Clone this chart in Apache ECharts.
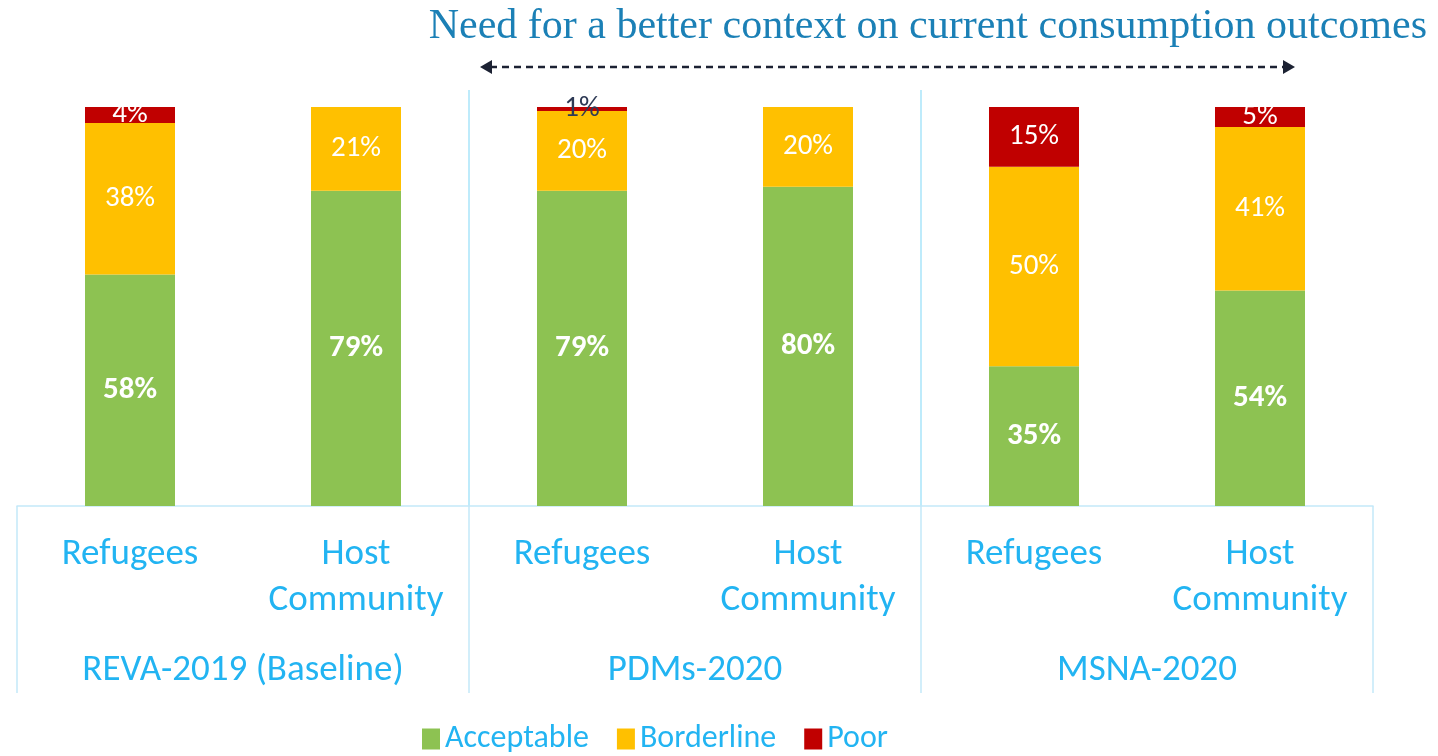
<!DOCTYPE html>
<html>
<head>
<meta charset="utf-8">
<script src="https://cdn.jsdelivr.net/npm/echarts@6/dist/echarts.min.js"></script>
<style>
  html, body { margin: 0; padding: 0; background: #fff; }
  #chart { width: 1438px; height: 756px; }
</style>
</head>
<body>
<div id="chart"></div>
<script>
// Survey rounds and the two population groups within each
const groups = ['REVA-2019 (Baseline)', 'PDMs-2020', 'MSNA-2020'];
const populations = ['Refugees', 'Host\nCommunity'];

// Food consumption score shares (%), one value per group/population bar
const acceptable = [58, 79, 79, 80, 35, 54];
const borderline = [38, 21, 20, 20, 50, 41];
const poor = [4, null, 1, null, 15, 5];

const seriesNames = ['Acceptable', 'Borderline', 'Poor'];
const colors = ['#8dc252', '#ffc000', '#c00000'];

// Unique keys "group|population" for the category axis
const categories = [];
groups.forEach(g => populations.forEach(p => categories.push(g + '|' + p)));

const labelFont = "Carlito, 'Noto Sans', 'Open Sans', sans-serif";
const axisBlue = '#22b4f2';
const boxLine = '#c3e9f9';

const chart = echarts.init(document.getElementById('chart'));

function segLabel(bold) {
  return {
    show: true,
    position: 'inside',
    formatter: p => (p.value == null ? '' : p.value + '%'),
    color: '#ffffff',
    fontFamily: labelFont,
    fontSize: bold ? 31 : 29,
    fontWeight: bold ? 'bold' : 'normal'
  };
}

const option = {
  animation: false,
  color: colors,
  title: {
    text: 'Need for a better context on current consumption outcomes',
    right: 6,
    top: 1,
    textStyle: {
      fontFamily: "'Liberation Serif', 'DejaVu Serif', serif",
      fontSize: 42,
      fontWeight: 'normal',
      color: '#1b80b6'
    }
  },
  legend: {
    data: seriesNames,
    left: 417,
    top: 718,
    icon: 'rect',
    itemWidth: 18,
    itemHeight: 21,
    itemGap: 28,
    textStyle: { fontFamily: labelFont, fontSize: 32, color: axisBlue }
  },
  grid: { left: 17, right: 65, top: 107, bottom: 250 },
  xAxis: [
    {
      type: 'category',
      data: categories,
      position: 'bottom',
      axisLine: { show: true, lineStyle: { color: boxLine, width: 1.5 } },
      axisTick: { show: false },
      axisLabel: {
        interval: 0,
        formatter: v => v.split('|')[1],
        fontFamily: labelFont,
        fontSize: 37,
        lineHeight: 46,
        color: axisBlue,
        margin: 26,
        verticalAlign: 'top'
      }
    },
    {
      type: 'category',
      data: groups,
      position: 'bottom',
      axisLine: { show: false },
      axisTick: { show: true, length: 187, lineStyle: { color: boxLine, width: 1.5 } },
      axisLabel: {
        interval: 0,
        fontFamily: labelFont,
        fontSize: 37,
        color: axisBlue,
        margin: 165,
        verticalAlign: 'middle'
      }
    }
  ],
  yAxis: { type: 'value', min: 0, max: 100, show: false },
  series: [
    {
      name: seriesNames[0], type: 'bar', stack: 'fcs', barWidth: 90,
      data: acceptable, label: segLabel(true)
    },
    {
      name: seriesNames[1], type: 'bar', stack: 'fcs', barWidth: 90,
      data: borderline, label: segLabel(false)
    },
    {
      name: seriesNames[2], type: 'bar', stack: 'fcs', barWidth: 90,
      // a very thin segment gets a dark label so it stays readable on white
      data: poor.map(v => (v != null && v < 2 ? { value: v, label: { color: '#2e3a55' } } : v)),
      label: segLabel(false)
    }
  ]
};

chart.setOption(option);

// Group separators rising above the bars, plus the dashed double arrow
const top100 = chart.convertToPixel({ yAxisIndex: 0 }, 100);
const base = chart.convertToPixel({ yAxisIndex: 0 }, 0);
const sepLines = [];
for (let g = 1; g < groups.length; g++) {
  const a = chart.convertToPixel({ xAxisIndex: 0 }, categories[g * 2 - 1]);
  const b = chart.convertToPixel({ xAxisIndex: 0 }, categories[g * 2]);
  const x = (a + b) / 2;
  sepLines.push({
    type: 'line',
    shape: { x1: x, y1: top100 - 17, x2: x, y2: base },
    style: { stroke: '#a9e4fa', lineWidth: 1.5 },
    silent: true
  });
}
const arrowY = 67, ax1 = 480, ax2 = 1295, arrowColor = '#1c2233';
chart.setOption({
  graphic: sepLines.concat([
    {
      type: 'line',
      shape: { x1: ax1 + 10, y1: arrowY, x2: ax2 - 10, y2: arrowY },
      style: { stroke: arrowColor, lineWidth: 2.5, lineDash: [7, 5] },
      silent: true
    },
    {
      type: 'polygon',
      shape: { points: [[ax1, arrowY], [ax1 + 12, arrowY - 7], [ax1 + 12, arrowY + 7]] },
      style: { fill: arrowColor },
      silent: true
    },
    {
      type: 'polygon',
      shape: { points: [[ax2, arrowY], [ax2 - 12, arrowY - 7], [ax2 - 12, arrowY + 7]] },
      style: { fill: arrowColor },
      silent: true
    }
  ])
});
</script>
</body>
</html>
